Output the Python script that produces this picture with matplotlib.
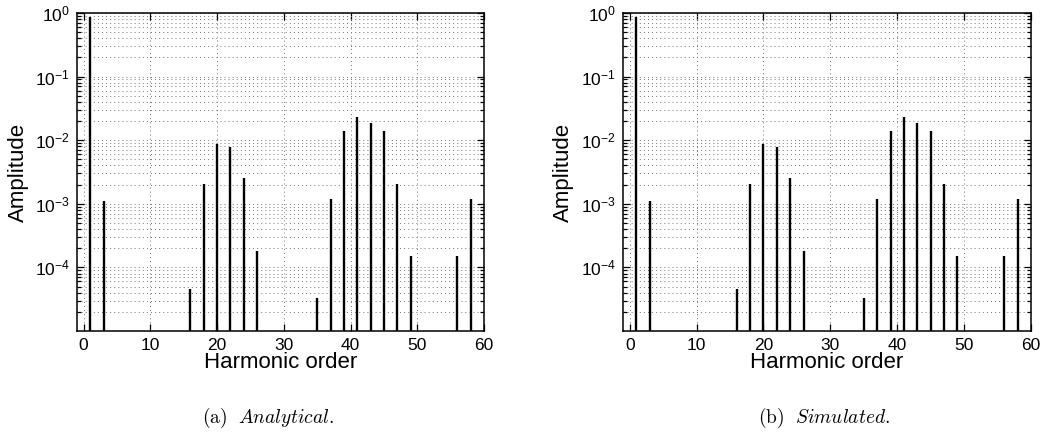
import numpy as np
import matplotlib
matplotlib.use("Agg")
import matplotlib.pyplot as plt
from matplotlib.ticker import LogLocator, NullFormatter, FixedLocator

# Harmonic spectra (amplitude per harmonic order)
orders = [1, 3, 16, 18, 20, 22, 24, 26, 35, 37, 39, 41, 43, 45, 47, 49, 56, 58]
amp_analytical = [0.87, 1.12e-3, 4.5e-5, 2.07e-3, 8.8e-3, 7.7e-3, 2.57e-3, 1.83e-4,
                  3.3e-5, 1.19e-3, 1.40e-2, 2.29e-2, 1.84e-2, 1.38e-2, 2.07e-3,
                  1.51e-4, 1.5e-4, 1.19e-3]
amp_simulated = [0.87, 1.12e-3, 4.5e-5, 2.07e-3, 8.8e-3, 7.7e-3, 2.57e-3, 1.83e-4,
                 3.3e-5, 1.19e-3, 1.40e-2, 2.29e-2, 1.84e-2, 1.38e-2, 2.07e-3,
                 1.51e-4, 1.5e-4, 1.19e-3]
x_ticks = [0, 10, 20, 30, 40, 50, 60]
y_ticks = [1e-4, 1e-3, 1e-2, 1e-1, 1e0]
captions = [(r"$\mathrm{(a)}\ \ \mathit{Analytical.}$", 0.2555),
            (r"$\mathrm{(b)}\ \ \mathit{Simulated.}$", 0.786)]

plt.rcParams["font.family"] = ["Liberation Sans", "DejaVu Sans"]
plt.rcParams["mathtext.fontset"] = "custom"
plt.rcParams["mathtext.rm"] = "Liberation Sans"
plt.rcParams["mathtext.it"] = "Liberation Sans:italic"
plt.rcParams["mathtext.bf"] = "Liberation Sans:bold"

fig = plt.figure(figsize=(10.49, 4.37), dpi=100)
positions = [[0.0734, 0.2426, 0.388, 0.7277], [0.5939, 0.2426, 0.389, 0.7277]]

for pos, amps, (cap, cx) in zip(positions, [amp_analytical, amp_simulated], captions):
    ax = fig.add_axes(pos)
    ax.set_yscale("log")
    ax.set_xlim(-1, 60)
    ax.set_ylim(1e-5, 1)
    ax.vlines(orders, 1e-6, amps, colors="black", linewidth=1.7, zorder=3)

    ax.xaxis.set_major_locator(FixedLocator(x_ticks))
    ax.yaxis.set_major_locator(FixedLocator(y_ticks))
    ax.yaxis.set_minor_locator(LogLocator(base=10, subs=np.arange(2, 10)))
    ax.yaxis.set_minor_formatter(NullFormatter())

    grid_kw = dict(color="0.45", linewidth=0.7, linestyle=(0, (1, 3.2)))
    ax.grid(True, which="major", axis="both", **grid_kw)
    ax.grid(True, which="minor", axis="y", **grid_kw)
    ax.set_axisbelow(True)

    ax.tick_params(which="both", direction="in", top=True, right=True,
                   labelsize=12.5, width=0.9, color="black")
    ax.tick_params(which="major", length=5, pad=5)
    ax.tick_params(which="minor", length=3)
    for sp in ax.spines.values():
        sp.set_linewidth(1.1)

    ax.set_xlabel("Harmonic order", fontsize=16)
    ax.set_ylabel("Amplitude", fontsize=16)
    ax.xaxis.set_label_coords(0.5, -0.10)
    ax.xaxis.label.set_va("center")
    ax.yaxis.set_label_coords(-0.145, 0.5)
    ax.yaxis.label.set_va("center")

    fig.text(cx, 1 - 418 / 437, cap, ha="center", va="center",
             fontsize=14, math_fontfamily="cm")

fig.savefig("out.png", dpi=100)
